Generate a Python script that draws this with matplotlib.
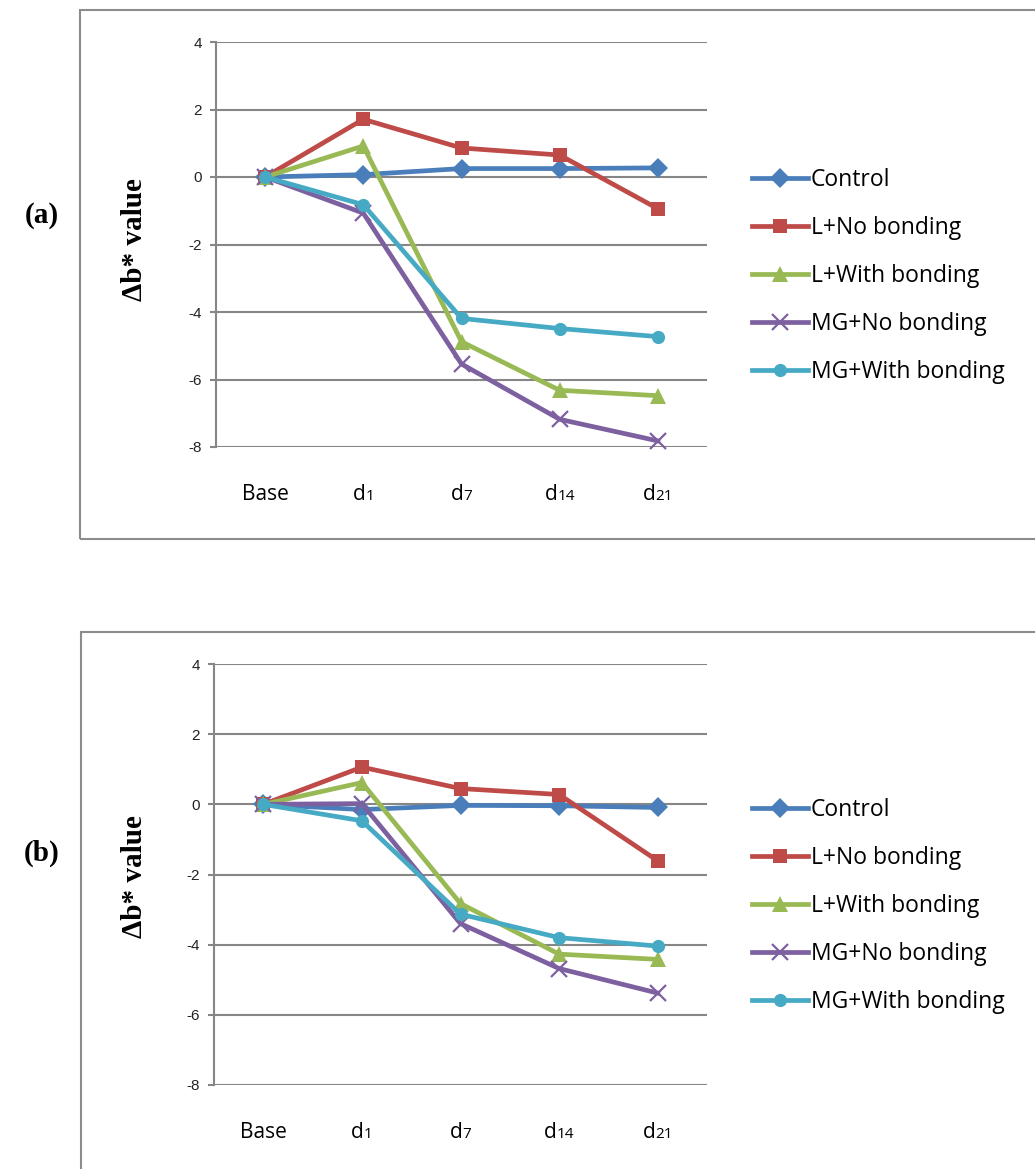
import matplotlib
matplotlib.use("Agg")
import matplotlib.pyplot as plt
from matplotlib.patches import Rectangle

W, H = 1035, 1169

categories = ["Base", "d1", "d7", "d14", "d21"]
series_names = ["Control", "L+No bonding", "L+With bonding", "MG+No bonding", "MG+With bonding"]

# panel (a)
a_control = [0.0, 0.07, 0.25, 0.25, 0.27]
a_l_no = [0.0, 1.71, 0.86, 0.65, -0.94]
a_l_with = [0.0, 0.92, -4.88, -6.32, -6.48]
a_mg_no = [0.0, -1.07, -5.54, -7.18, -7.82]
a_mg_with = [0.0, -0.82, -4.19, -4.49, -4.73]

# panel (b)
b_control = [0.0, -0.15, -0.03, -0.04, -0.09]
b_l_no = [0.0, 1.06, 0.45, 0.28, -1.61]
b_l_with = [0.0, 0.62, -2.83, -4.27, -4.42]
b_mg_no = [0.0, 0.02, -3.40, -4.68, -5.38]
b_mg_with = [0.0, -0.47, -3.13, -3.80, -4.04]

yticks = [4, 2, 0, -2, -4, -6, -8]

colors = ["#4a7ebb", "#be4b48", "#98b954", "#7d60a0", "#46aac5"]
markers = ["D", "s", "^", "x", "o"]
msizes = [10, 9.5, 12, 11, 9.5]

grid_col = "#868686"
sans = ["Open Sans", "DejaVu Sans"]


def px(x, y):
    # pixel position (from top-left) -> figure fraction
    return x / W, 1 - y / H


def draw_panel(fig, rect, data, label, ylab_y, legend_y):
    ax = fig.add_axes(rect)
    xs = range(len(categories))
    for vals, name, c, m, ms in zip(data, series_names, colors, markers, msizes):
        ax.plot(xs, vals, color=c, lw=3.4, marker=m, ms=ms, mew=1.6 if m == "x" else 0,
                mec=c, mfc=c, label=name, solid_joinstyle="round", clip_on=False)

    ax.set_xlim(-0.5, 4.5)
    ax.set_ylim(-8, 4)
    ax.set_yticks(yticks)
    ax.set_yticklabels([str(t) for t in yticks], family="Liberation Sans", fontsize=11,
                       color="#222222")
    for t in yticks:
        ax.axhline(t, color=grid_col, lw=1.5, zorder=0)
    for s in ["top", "right", "bottom"]:
        ax.spines[s].set_visible(False)
    ax.spines["left"].set_color(grid_col)
    ax.spines["left"].set_linewidth(1.5)
    ax.tick_params(axis="y", length=4, width=1.5, color=grid_col, pad=6)
    ax.set_xticks([])

    # category labels, digits set smaller like the original
    for i, cat in enumerate(categories):
        if cat == "Base":
            ax.annotate(cat, xy=(i, 0), xycoords=("data", "axes fraction"),
                        xytext=(0, -38), textcoords="offset points",
                        ha="center", va="baseline", fontsize=15, family=sans)
        else:
            digits = cat[1:]
            wd = 0.613 * 15
            wn = 0.572 * 11 * len(digits)
            x0 = -(wd + wn) / 2
            ax.annotate("d", xy=(i, 0), xycoords=("data", "axes fraction"),
                        xytext=(x0, -38), textcoords="offset points",
                        ha="left", va="baseline", fontsize=15, family=sans)
            ax.annotate(digits, xy=(i, 0), xycoords=("data", "axes fraction"),
                        xytext=(x0 + wd, -38), textcoords="offset points",
                        ha="left", va="baseline", fontsize=11, family=sans)

    lx, ly = px(752, legend_y)
    ax.legend(loc="center left", bbox_to_anchor=(lx, ly), bbox_transform=fig.transFigure,
              frameon=False, prop={"family": sans, "size": 16.5}, handlelength=2.45,
              handletextpad=0.12, labelspacing=1.05, borderpad=0, borderaxespad=0)

    fx, fy = px(135, ylab_y)
    fig.text(fx, fy, "\u0394b* value", rotation=90, ha="center", va="center",
             family="Liberation Serif", fontweight="bold", fontsize=21)
    fx, fy = px(42, ylab_y - 24)
    fig.text(fx, fy, label, ha="center", va="center",
             family="Liberation Serif", fontweight="bold", fontsize=21)
    return ax


fig = plt.figure(figsize=(W / 100, H / 100), dpi=100)

# panel frames
fig.patches.append(Rectangle(px(80, 539), (1040 - 80) / W, (539 - 10) / H,
                             transform=fig.transFigure, fill=False,
                             edgecolor="#8c8c8c", lw=1.5))
fig.patches.append(Rectangle(px(81, 1180), (1040 - 81) / W, (1180 - 632) / H,
                             transform=fig.transFigure, fill=False,
                             edgecolor="#8c8c8c", lw=1.5))

l, b = px(216, 447)
draw_panel(fig, [l, b, (707 - 216) / W, (447 - 42) / H],
           [a_control, a_l_no, a_l_with, a_mg_no, a_mg_with], "(a)", 240, 276)
l, b = px(214, 1085)
draw_panel(fig, [l, b, (707 - 214) / W, (1085 - 664) / H],
           [b_control, b_l_no, b_l_with, b_mg_no, b_mg_with], "(b)", 877, 906)

fig.savefig("out.png", dpi=100)
